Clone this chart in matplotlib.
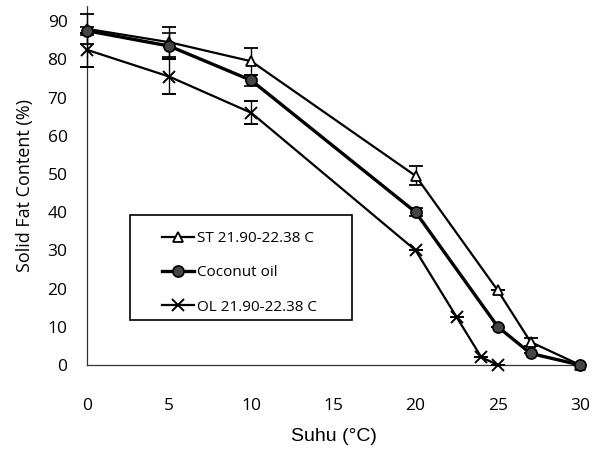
import numpy as np
import matplotlib.pyplot as plt
from matplotlib.patches import Rectangle

suhu = [0, 5, 10, 20, 25, 27, 30]
st_sfc = [88.0, 84.5, 79.5, 49.5, 19.5, 6.0, 0.0]
st_err = [4.0, 4.0, 3.5, 2.5, 0.0, 1.0, 0.0]
coco_sfc = [87.5, 83.5, 74.5, 40.0, 10.0, 3.0, 0.0]
coco_err = [1.0, 3.5, 1.5, 1.0, 0.0, 0.0, 0.0]

suhu_ol = [0, 5, 10, 20, 22.5, 24, 25]
ol_sfc = [82.5, 75.5, 66.0, 30.0, 12.5, 2.0, 0.0]
ol_err = [4.5, 4.5, 3.0, 0.0, 0.0, 0.0, 0.0]

xticks = [0, 5, 10, 15, 20, 25, 30]
yticks = [0, 10, 20, 30, 40, 50, 60, 70, 80, 90]

fig = plt.figure(figsize=(5.96, 4.55), dpi=100)
ax = fig.add_axes([0.146, 0.198, 0.827, 0.789])

ax.errorbar(suhu, st_sfc, yerr=st_err, color="black", lw=1.6, marker="^",
            ms=7, mfc="white", mec="black", mew=1.3, capsize=5, elinewidth=1,
            capthick=1.2, clip_on=False, zorder=3, label="ST 21.90-22.38 C")
ax.errorbar(suhu, coco_sfc, yerr=coco_err, color="black", lw=2.4, marker="o",
            ms=8, mfc="#444444", mec="black", mew=1.2, capsize=5, elinewidth=1,
            capthick=1.2, clip_on=False, zorder=4, label="Coconut oil")
ax.errorbar(suhu_ol, ol_sfc, yerr=ol_err, color="black", lw=1.6, marker="x",
            ms=8, mew=1.4, capsize=5, elinewidth=1, capthick=1.2,
            clip_on=False, zorder=3, label="OL 21.90-22.38 C")

ax.set_xlim(0, 30)
ax.set_ylim(0, 94)
ax.set_xticks(xticks)
ax.set_yticks(yticks)
ax.tick_params(length=0, labelsize=12.5)
ax.tick_params(axis="x", pad=24)
ax.tick_params(axis="y", pad=14)
for lbl in ax.get_xticklabels() + ax.get_yticklabels():
    lbl.set_family("Open Sans")

for side in ["top", "right"]:
    ax.spines[side].set_visible(False)
for side in ["left", "bottom"]:
    ax.spines[side].set_linestyle((0, (2, 1)))
    ax.spines[side].set_linewidth(0.9)
    ax.spines[side].set_color("#333333")

ax.set_xlabel("Suhu (°C)", fontsize=14, family="Liberation Sans", labelpad=10)
ax.set_ylabel("Solid Fat Content (%)", fontsize=13, family="Open Sans", labelpad=10)

# legend box drawn separately so the padding can be wider than the text rows
ax.add_patch(Rectangle((0.087, 0.125), 0.451, 0.293, transform=ax.transAxes,
                       fill=True, facecolor="white", edgecolor="black", lw=1.2,
                       zorder=5))
handles, labels = ax.get_legend_handles_labels()
handles = [h[0] for h in handles]
leg = ax.legend(handles, labels, loc="upper left", bbox_to_anchor=(0.152, 0.372),
                frameon=False, labelspacing=1.25, handlelength=2.1,
                handletextpad=0.2, borderpad=0, borderaxespad=0,
                prop={"family": "Open Sans", "size": 11})
leg.set_zorder(6)

fig.savefig("out.png", dpi=100)
